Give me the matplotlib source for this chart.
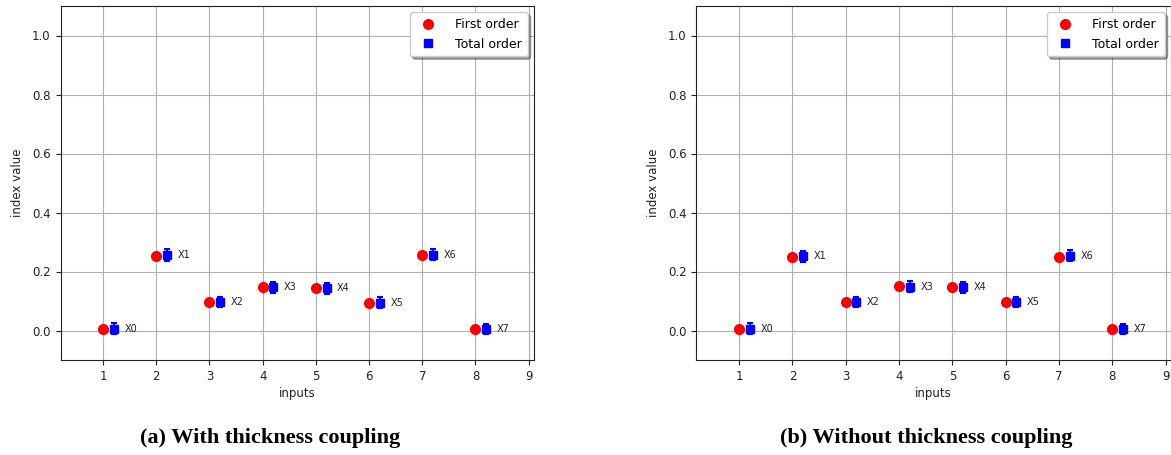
import matplotlib
matplotlib.use("Agg")
import matplotlib.pyplot as plt
import numpy as np

inputs = [1, 2, 3, 4, 5, 6, 7, 8]
names = ["X0", "X1", "X2", "X3", "X4", "X5", "X6", "X7"]

first_a = [0.005, 0.252, 0.095, 0.147, 0.144, 0.093, 0.257, 0.004]
total_a = [0.006, 0.256, 0.096, 0.146, 0.143, 0.094, 0.257, 0.006]
err_a = [0.018, 0.019, 0.018, 0.019, 0.018, 0.018, 0.019, 0.017]

first_b = [0.005, 0.248, 0.095, 0.150, 0.147, 0.095, 0.250, 0.004]
total_b = [0.006, 0.252, 0.096, 0.148, 0.146, 0.096, 0.254, 0.006]
err_b = [0.018, 0.019, 0.018, 0.019, 0.018, 0.018, 0.019, 0.017]

captions = ["(a) With thickness coupling", "(b) Without thickness coupling"]

W, H = 1171, 455
fig = plt.figure(figsize=(W / 100, H / 100), dpi=100)

panels = [
    (60.5, 534.0, first_a, total_a, err_a, captions[0], 270),
    (696.5, 1171.0, first_b, total_b, err_b, captions[1], 926),
]

for x0, x1, first, total, err, cap, cx in panels:
    ax = fig.add_axes([x0 / W, 1 - 360 / H, (x1 - x0) / W, 354 / H])
    xs = np.array(inputs, dtype=float)
    ax.plot(xs, first, "o", color="red", markersize=7, label="First order", zorder=3)
    ax.plot(xs + 0.2, total, "s", color="blue", markersize=5.5, label="Total order", zorder=3)
    ax.errorbar(xs + 0.2, total, yerr=err, fmt="none", ecolor="blue", capsize=2,
                elinewidth=1.5, capthick=1.5, zorder=3)
    for xi, yi, nm in zip(xs, total, names):
        ax.text(xi + 0.4, yi, nm, fontsize=7, va="center", ha="left", color="#222222")
    ax.set_xlim(0.2, 9.1)
    ax.set_ylim(-0.1, 1.1)
    ax.set_xticks(range(1, 10))
    ax.set_yticks([0.0, 0.2, 0.4, 0.6, 0.8, 1.0])
    ax.grid(True, color="#b0b0b0", linewidth=0.8)
    ax.set_axisbelow(True)
    ax.tick_params(labelsize=8.5, length=3.5, color="#222222", labelcolor="#222222")
    ax.set_xlabel("inputs", fontsize=8.5, color="#222222", labelpad=3)
    ax.set_ylabel("index value", fontsize=8.5, color="#222222", labelpad=6)
    for s in ax.spines.values():
        s.set_color("#222222")
    leg = ax.legend(loc="upper right", fontsize=9, shadow=True, fancybox=True,
                    handletextpad=1.2, borderpad=0.45, labelspacing=0.55)
    fig.text(cx / W, 1 - 438 / H, cap, ha="center", va="center",
             fontsize=16, fontweight="bold", family="Liberation Serif")

fig.savefig("out.png", dpi=100)
